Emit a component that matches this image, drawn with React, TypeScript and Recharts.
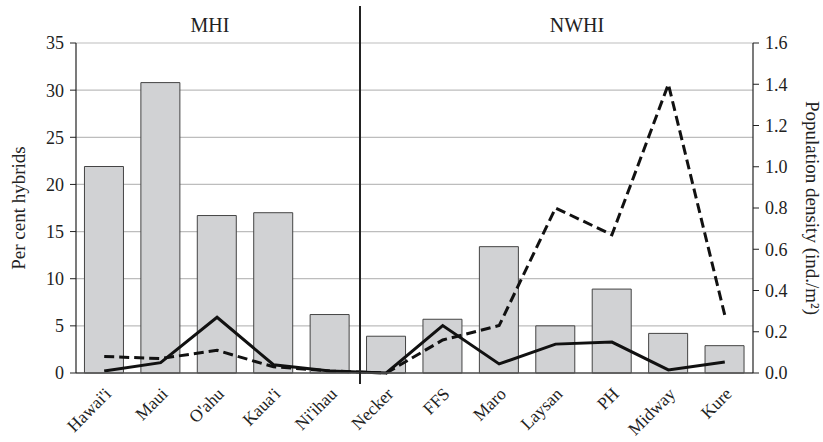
import { ComposedChart, Bar, Line, XAxis, YAxis, CartesianGrid } from "recharts";

const islands = ["Hawai'i", "Maui", "O'ahu", "Kaua'i", "Ni'ihau", "Necker", "FFS", "Maro", "Laysan", "PH", "Midway", "Kure"];
const hybridPct = [21.9, 30.8, 16.7, 17.0, 6.2, 3.9, 5.7, 13.4, 5.0, 8.9, 4.2, 2.9];
const densitySolid = [0.01, 0.05, 0.27, 0.04, 0.01, 0.0, 0.23, 0.044, 0.14, 0.15, 0.015, 0.053];
const densityDashed = [0.08, 0.07, 0.11, 0.03, 0.01, 0.0, 0.16, 0.23, 0.8, 0.67, 1.4, 0.28];
const leftTicks = [0, 5, 10, 15, 20, 25, 30, 35];
const rightTicks = [0, 0.2, 0.4, 0.6, 0.8, 1.0, 1.2, 1.4, 1.6];

const data = islands.map((name, i) => ({
  name,
  pct: hybridPct[i],
  solid: densitySolid[i],
  dashed: densityDashed[i],
}));

const FONT = "Liberation Serif, Times New Roman, DejaVu Serif, serif";

const XTick = (props: any) => {
  const { x, y, payload } = props;
  return (
    <text
      x={x + 8}
      y={y + 14}
      transform={`rotate(-45, ${x + 8}, ${y + 14})`}
      textAnchor="end"
      style={{ fontFamily: FONT, fontSize: 17.5 }}
      fill="#222"
    >
      {payload.value}
    </text>
  );
};

export default function App() {
  return (
    <div style={{ position: "absolute", left: 0, top: 0, width: 823, height: 442, background: "#fff", fontFamily: FONT }}>
      <ComposedChart
        width={823}
        height={442}
        data={data}
        margin={{ top: 43, right: 0, left: 0, bottom: 0 }}
        barCategoryGap="15%"
        style={{ fontFamily: FONT }}
      >
        <CartesianGrid yAxisId="left" vertical={false} stroke="#bdbdbd" strokeWidth={1.2} />
        <XAxis
          dataKey="name"
          height={69}
          tickLine={false}
          axisLine={{ stroke: "#555", strokeWidth: 1.5 }}
          tick={<XTick />}
          interval={0}
        />
        <YAxis
          yAxisId="left"
          width={76}
          domain={[0, 35]}
          ticks={leftTicks}
          tickSize={6}
          tickMargin={6}
          axisLine={{ stroke: "#222", strokeWidth: 1.2 }}
          tickLine={{ stroke: "#222" }}
          tick={{ style: { fontFamily: FONT }, fontSize: 18, fill: "#222" }}
          label={{
            value: "Per cent hybrids",
            angle: -90,
            position: "insideLeft",
            offset: 18,
            style: { textAnchor: "middle", fontFamily: FONT, fontSize: 19, fill: "#222" },
          }}
        />
        <YAxis
          yAxisId="right"
          orientation="right"
          width={70}
          domain={[0, 1.6]}
          ticks={rightTicks}
          tickFormatter={(v: number) => v.toFixed(1)}
          tickSize={6}
          tickMargin={6}
          axisLine={{ stroke: "#222", strokeWidth: 1.2 }}
          tickLine={{ stroke: "#222" }}
          tick={{ style: { fontFamily: FONT }, fontSize: 18, fill: "#222", textAnchor: "start" }}
          label={{
            value: "Population density (ind./m²)",
            angle: 90,
            position: "insideRight",
            offset: 10,
            style: { textAnchor: "middle", fontFamily: FONT, fontSize: 19, fill: "#222" },
          }}
        />
        <Bar yAxisId="left" dataKey="pct" fill="#d1d2d4" stroke="#444" strokeWidth={1} isAnimationActive={false} />
        <Line
          yAxisId="right"
          dataKey="dashed"
          stroke="#111"
          strokeWidth={3}
          strokeDasharray="10 5"
          dot={false}
          activeDot={false}
          isAnimationActive={false}
        />
        <Line
          yAxisId="right"
          dataKey="solid"
          stroke="#111"
          strokeWidth={3}
          dot={false}
          activeDot={false}
          isAnimationActive={false}
        />
      </ComposedChart>
      <div style={{ position: "absolute", left: 358.5, top: 6, width: 2, height: 378, background: "#222" }} />
      <div style={{ position: "absolute", left: 170, top: 13, width: 80, textAlign: "center", fontSize: 20, lineHeight: "24px", color: "#222" }}>MHI</div>
      <div style={{ position: "absolute", left: 537, top: 13, width: 80, textAlign: "center", fontSize: 20, lineHeight: "24px", color: "#222" }}>NWHI</div>
    </div>
  );
}
